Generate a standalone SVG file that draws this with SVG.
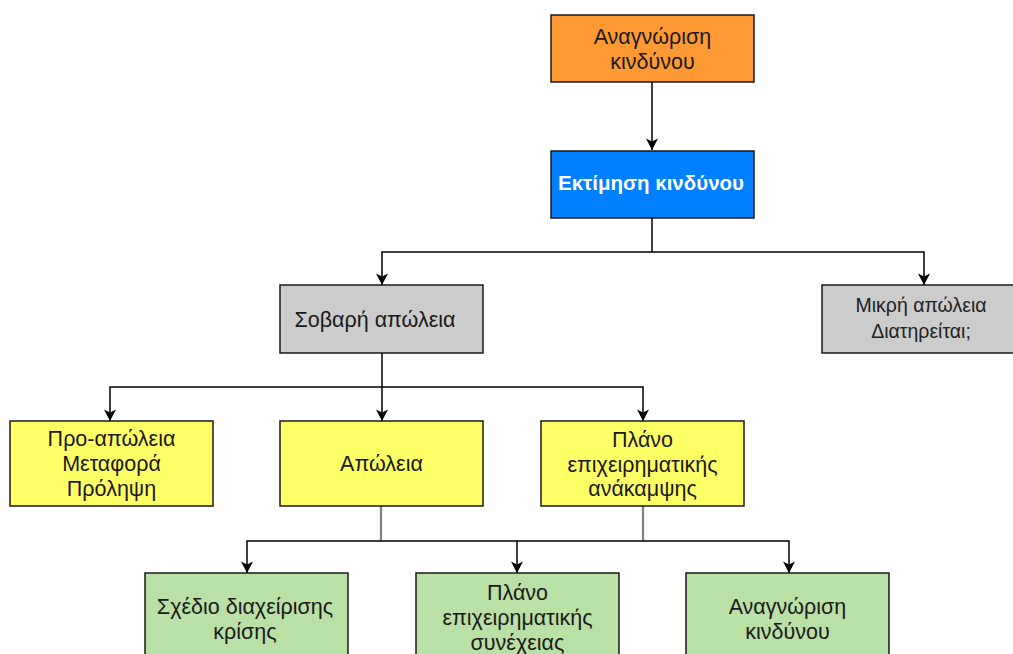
<svg xmlns="http://www.w3.org/2000/svg" width="1013" height="654" viewBox="0 0 1013 654">
  <defs>
    <marker id="arrow" markerUnits="userSpaceOnUse" markerWidth="14" markerHeight="14" viewBox="0 0 14 14" refX="12" refY="7" orient="auto">
      <path d="M0.5,1 L12,7 L0.5,13 L3.5,7 Z" fill="#000"/>
    </marker>
    <style>
      .box { stroke: #1a1a1a; stroke-width: 1.5; }
      .orange { fill: #FF9933; }
      .blue { fill: #007FFF; }
      .gray { fill: #CCCCCC; }
      .yellow { fill: #FFFF66; }
      .green { fill: #B9E0A5; }
      .lbl { font-family: "Liberation Sans", Arial, sans-serif; font-size: 21.5px; fill: #1a1a1a; text-anchor: middle; }
      .lbl-w { font-family: "Liberation Sans", Arial, sans-serif; font-size: 20.5px; font-weight: bold; fill: #ffffff; text-anchor: middle; }
      .lbl-s { font-family: "Liberation Sans", Arial, sans-serif; font-size: 19.5px; fill: #222; text-anchor: middle; }
      .wire { fill: none; stroke: #000; stroke-width: 1.5; }
      .wire-g { fill: none; stroke: #808080; stroke-width: 2.2; }
    </style>
  </defs>
  <rect width="1013" height="654" fill="#ffffff"/>

  <!-- connectors -->
  <g id="connectors">
    <path class="wire" d="M652,82 V150" marker-end="url(#arrow)"/>
    <path class="wire" d="M652,218 V252 H382 V285" marker-end="url(#arrow)"/>
    <path class="wire" d="M652,252 H924 V285" marker-end="url(#arrow)"/>
    <path class="wire" d="M382,353 V421" marker-end="url(#arrow)"/>
    <path class="wire" d="M382,387 H110 V421" marker-end="url(#arrow)"/>
    <path class="wire" d="M382,387 H643 V421" marker-end="url(#arrow)"/>
    <path class="wire-g" d="M381,506 V541"/>
    <path class="wire-g" d="M643,506 V541"/>
    <path class="wire" d="M381,541 H247 V573" marker-end="url(#arrow)"/>
    <path class="wire" d="M381,541 H517 V573" marker-end="url(#arrow)"/>
    <path class="wire" d="M517,541 H789 V573" marker-end="url(#arrow)"/>
  </g>

  <g id="node-recognition">
    <rect class="box orange" x="551" y="15" width="203" height="67"/>
    <text class="lbl" x="652.5" y="44">Αναγνώριση</text>
    <text class="lbl" x="652.5" y="69">κινδύνου</text>
  </g>

  <g id="node-assessment">
    <rect class="box blue" x="551" y="151" width="203" height="67"/>
    <text class="lbl-w" x="651" y="190">Εκτίμηση κινδύνου</text>
  </g>

  <g id="node-major-loss">
    <rect class="box gray" x="280" y="285" width="203" height="68"/>
    <text class="lbl" x="375" y="327">Σοβαρή απώλεια</text>
  </g>

  <g id="node-minor-loss">
    <rect class="box gray" x="822" y="285" width="203" height="68"/>
    <text class="lbl-s" x="921" y="312">Μικρή απώλεια</text>
    <text class="lbl-s" x="921" y="338">Διατηρείται;</text>
  </g>

  <g id="node-pre-loss">
    <rect class="box yellow" x="10" y="421" width="203" height="85"/>
    <text class="lbl" x="111.5" y="446">Προ-απώλεια</text>
    <text class="lbl" x="111.5" y="471">Μεταφορά</text>
    <text class="lbl" x="111.5" y="496">Πρόληψη</text>
  </g>

  <g id="node-loss">
    <rect class="box yellow" x="280" y="421" width="203" height="85"/>
    <text class="lbl" x="381.5" y="471">Απώλεια</text>
  </g>

  <g id="node-recovery-plan">
    <rect class="box yellow" x="541" y="421" width="203" height="85"/>
    <text class="lbl" x="642.5" y="447">Πλάνο</text>
    <text class="lbl" x="642.5" y="472">επιχειρηματικής</text>
    <text class="lbl" x="642.5" y="496">ανάκαμψης</text>
  </g>

  <g id="node-crisis-plan">
    <rect class="box green" x="145" y="573" width="203" height="90"/>
    <text class="lbl" x="245" y="614">Σχέδιο διαχείρισης</text>
    <text class="lbl" x="245" y="639">κρίσης</text>
  </g>

  <g id="node-continuity-plan">
    <rect class="box green" x="416" y="573" width="203" height="90"/>
    <text class="lbl" x="517.5" y="600">Πλάνο</text>
    <text class="lbl" x="517.5" y="625">επιχειρηματικής</text>
    <text class="lbl" x="517.5" y="650">συνέχειας</text>
  </g>

  <g id="node-risk-id">
    <rect class="box green" x="686" y="573" width="203" height="90"/>
    <text class="lbl" x="787.5" y="614">Αναγνώριση</text>
    <text class="lbl" x="787.5" y="639">κινδύνου</text>
  </g>
</svg>
